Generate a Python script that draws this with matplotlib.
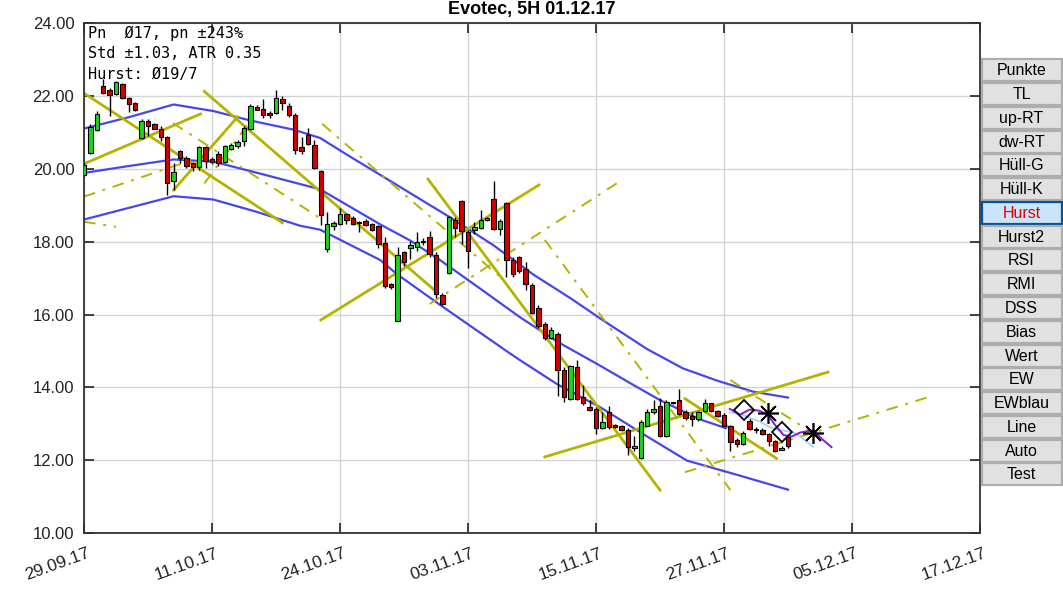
import matplotlib
matplotlib.use("Agg")
import matplotlib.pyplot as plt
import matplotlib.transforms as mtrans
from matplotlib.patches import Rectangle
import numpy as np

W, H = 1063, 591

# --- Kerzen (5H-Bars) ---
opens = [19.84, 20.45, 21.08, 22.29, 22.18, 22.06, 22.32, 21.95, 21.80, 20.85,
         21.33, 21.24, 21.11, 20.88, 19.66, 20.49, 20.30, 20.15, 20.05, 20.61,
         20.27, 20.41, 20.20, 20.55, 20.62, 20.76, 21.10, 21.71, 21.65, 21.54,
         21.54, 21.91, 21.74, 21.47, 20.59, 20.94, 20.66, 19.94, 17.80, 18.44,
         18.48, 18.75, 18.64, 18.54, 18.56, 18.48, 18.44, 17.96, 16.83, 15.83,
         17.71, 17.83, 17.86, 17.98, 18.14, 17.64, 16.54, 17.13, 18.60, 19.13,
         18.28, 18.32, 18.38, 18.60, 19.17, 18.35, 19.06, 17.50, 17.57, 17.25,
         16.82, 16.18, 15.74, 15.36, 15.47, 14.47, 13.67, 14.55, 13.73, 13.47,
         13.40, 12.88, 13.31, 12.97, 12.93, 12.82, 12.34, 12.06, 12.95, 13.31,
         13.49, 12.67, 13.59, 13.64, 13.31, 13.20, 13.13, 13.36, 13.56, 13.34,
         13.25, 12.95, 12.55, 12.45, 13.09, 12.85, 12.82, 12.73, 12.52, 12.29,
         12.65]
highs = [20.15, 21.24, 21.59, 22.46, 22.23, 22.41, 22.37, 21.98, 21.83, 21.36,
         21.38, 21.25, 21.17, 20.90, 20.17, 20.53, 20.35, 20.18, 20.64, 20.64,
         20.34, 20.48, 20.66, 20.70, 20.80, 21.17, 21.77, 21.75, 21.91, 21.58,
         22.17, 22.00, 21.82, 21.54, 20.89, 21.12, 20.80, 19.96, 18.83, 18.58,
         18.92, 18.80, 18.72, 18.58, 18.62, 18.52, 18.47, 18.14, 16.88, 17.86,
         17.75, 18.03, 18.26, 18.10, 18.30, 17.71, 16.58, 18.72, 18.67, 19.15,
         18.32, 18.55, 18.87, 18.67, 19.68, 18.62, 19.08, 17.57, 17.62, 17.43,
         16.88, 16.25, 15.80, 15.65, 15.52, 14.56, 14.61, 14.75, 14.06, 13.65,
         13.45, 13.33, 13.49, 13.00, 12.97, 12.88, 12.67, 13.11, 13.40, 13.65,
         13.70, 13.64, 13.61, 13.95, 13.38, 13.33, 13.34, 13.67, 13.58, 13.38,
         13.29, 12.97, 12.62, 12.79, 13.15, 12.92, 12.88, 12.76, 12.56, 12.38,
         12.69]
lows = [19.80, 20.42, 21.04, 22.05, 21.45, 22.03, 21.93, 21.56, 21.59, 20.83,
        20.90, 21.10, 20.76, 19.29, 19.43, 20.17, 20.03, 19.95, 19.98, 20.03,
        20.14, 20.09, 20.16, 20.52, 20.58, 20.62, 21.08, 21.61, 21.40, 21.40,
        21.52, 21.63, 21.43, 20.41, 20.41, 20.66, 20.00, 18.45, 17.72, 18.31,
        18.46, 18.50, 18.47, 18.27, 18.43, 18.30, 17.83, 16.74, 16.70, 15.81,
        17.34, 17.52, 17.75, 17.90, 17.57, 16.45, 16.26, 17.11, 18.14, 17.95,
        17.28, 18.21, 18.35, 18.58, 18.32, 18.19, 17.02, 17.02, 17.15, 16.67,
        16.01, 15.64, 15.30, 15.33, 13.76, 13.61, 13.64, 13.64, 13.52, 13.34,
        12.73, 12.85, 12.85, 12.88, 12.80, 12.15, 12.25, 12.04, 12.93, 13.27,
        12.64, 12.65, 13.55, 13.25, 13.11, 12.94, 13.09, 13.33, 13.31, 13.18,
        12.93, 12.25, 12.37, 12.42, 12.83, 12.75, 12.69, 12.40, 12.22, 12.27,
        12.33]
closes = [20.10, 21.15, 21.50, 22.09, 22.03, 22.39, 21.95, 21.77, 21.61, 21.33,
          21.17, 21.11, 20.88, 19.61, 19.92, 20.30, 20.09, 20.05, 20.61, 20.22,
          20.18, 20.16, 20.62, 20.66, 20.73, 21.12, 21.72, 21.63, 21.47, 21.47,
          21.94, 21.82, 21.47, 20.53, 20.48, 20.69, 20.02, 18.74, 18.48, 18.52,
          18.75, 18.61, 18.50, 18.51, 18.47, 18.31, 17.95, 16.79, 16.76, 17.64,
          17.43, 17.92, 17.98, 18.03, 17.66, 16.56, 16.30, 18.67, 18.38, 18.30,
          17.75, 18.41, 18.61, 18.65, 18.35, 18.58, 17.50, 17.11, 17.20, 16.83,
          16.04, 15.68, 15.36, 15.57, 14.47, 13.73, 14.58, 13.67, 13.56, 13.38,
          12.88, 13.06, 12.91, 12.91, 12.82, 12.36, 12.40, 13.06, 13.31, 13.40,
          12.67, 13.61, 13.57, 13.27, 13.15, 13.13, 13.31, 13.56, 13.34, 13.20,
          12.95, 12.49, 12.45, 12.76, 12.85, 12.82, 12.73, 12.52, 12.25, 12.34,
          12.40]

x_labels = ["29.09.17", "11.10.17", "24.10.17", "03.11.17",
            "15.11.17", "27.11.17", "05.12.17", "17.12.17"]
y_ticks = [10, 12, 14, 16, 18, 20, 22, 24]

# --- Kanal (blau) ---
upper_x = [0, 7, 14, 20.2, 26, 32.7, 36.9, 41, 46.25, 57.2, 64, 70.2, 76, 81.1, 88, 93.6, 99, 104.6, 110]
upper_y = [21.11, 21.42, 21.77, 21.59, 21.33, 21.08, 20.85, 20.40, 19.84, 18.67, 17.90, 17.1, 16.45, 15.84,
           15.05, 14.52, 14.18, 13.88, 13.72]
mid_x = [0, 7, 14, 20.2, 28, 36.9, 46.25, 51, 55.6, 62, 68.1, 74, 80.6, 86, 90, 96.25, 100.3]
mid_y = [19.89, 20.08, 20.26, 20.20, 19.85, 19.44, 18.48, 18.03, 17.5, 16.70, 15.93, 15.25, 14.6, 14.05,
         13.65, 13.12, 12.88]
low_x = [0, 7, 14, 20.2, 27, 33.75, 36.9, 46.25, 48.9, 55.6, 66, 68.1, 74, 80.6, 88, 94.2, 102, 110]
low_y = [18.61, 18.93, 19.25, 19.16, 18.82, 18.44, 18.33, 17.5, 17.11, 16.27, 15.0, 14.75, 14.08, 13.46,
         12.65, 11.99, 11.60, 11.19]

# --- Trendlinien (x0, y0, x1, y1) ---
tl_solid = [(0, 22.08, 31.0, 18.52), (0, 20.14, 18.2, 21.51), (18.8, 22.13, 55.1, 16.62),
            (14.0, 19.42, 24.0, 21.43), (37.0, 15.85, 71.1, 19.56), (53.75, 19.72, 90.0, 11.18),
            (72.0, 12.09, 116.25, 14.42), (93.9, 13.69, 108.2, 12.05)]
tl_dash = [(0, 19.24, 17.0, 20.25), (18.8, 19.6, 25.5, 21.2), (0, 18.55, 5.0, 18.41),
           (13.9, 21.26, 36.6, 18.68), (37.2, 21.24, 65.8, 16.92), (54.0, 16.29, 84.0, 19.69),
           (72.0, 18.05, 101.0, 11.18), (93.9, 11.67, 131.9, 13.73), (101.0, 14.2, 113.9, 12.74)]

# --- Hurst-Projektion ---
hurst_x = [100.9, 102.5, 104.0, 105.5, 106.9, 108.0, 109.3, 110.6, 111.9, 113.9, 115.5, 116.8]
hurst_y = [13.41, 13.25, 13.39, 13.36, 13.24, 12.96, 12.69, 12.65, 12.76, 12.82, 12.55, 12.36]
hurst2_x = [100.9, 102.5, 104.2, 105.6, 107.0, 108.3, 109.7, 111.1, 112.4, 113.9]
hurst2_y = [13.31, 13.27, 13.15, 13.06, 12.92, 12.84, 12.80, 12.74, 12.58, 12.37]
diam_x = [103.1, 109.1]
diam_y = [13.38, 12.77]
star_x = [106.8, 113.9]
star_y = [13.29, 12.74]

buttons = ["Punkte", "TL", "up-RT", "dw-RT", "Hüll-G", "Hüll-K", "Hurst", "Hurst2", "RSI",
           "RMI", "DSS", "Bias", "Wert", "EW", "EWblau", "Line", "Auto", "Test"]
active = "Hurst"

olive = "#b4b400"
blue = "#4646ee"

fig = plt.figure(figsize=(W / 100, H / 100), dpi=100)
ax = fig.add_axes([84 / W, 1 - 533 / H, (980 - 84) / W, (533 - 23.3) / H])

for xs, ys in [(upper_x, upper_y), (mid_x, mid_y), (low_x, low_y)]:
    ax.plot(xs, ys, color=blue, lw=1.6, zorder=2)

for x0, y0, x1, y1 in tl_solid:
    ax.plot([x0, x1], [y0, y1], color=olive, lw=2.0, zorder=2.5)
for x0, y0, x1, y1 in tl_dash:
    ax.plot([x0, x1], [y0, y1], color=olive, lw=1.4, ls=(0, (6, 4, 1.5, 4)), zorder=2.5)

# Kerzen
o = np.array(opens); c = np.array(closes)
idx = np.arange(len(o))
cols = np.where(c >= o, "#1ed21e", "#d40000")
ax.vlines(idx, lows, highs, color="black", lw=1.0, zorder=3)
ax.bar(idx, np.maximum(np.abs(c - o), 0.04), bottom=np.minimum(o, c), width=0.7,
       color=cols, edgecolor="black", linewidth=0.8, zorder=3.5)

ax.plot(hurst2_x, hurst2_y, color="#a8d4ff", lw=1.4, zorder=4)
ax.plot(hurst_x, hurst_y, color="#8a1ad0", lw=1.4, zorder=4)
ax.plot(diam_x, diam_y, ls="none", marker="D", ms=10, mfc="none", mec="black", mew=1.3, zorder=5)
ax.plot(star_x, star_y, ls="none", marker=(8, 2, 0), ms=15, mec="black", mew=1.2, zorder=5)

ax.set_xlim(0, 140)
ax.set_ylim(10, 24)
ax.set_xticks(range(0, 141, 20))
ax.set_xticklabels(x_labels, rotation=20, ha="right", fontsize=12.5, family="Liberation Sans", color="#222222")
ax.set_yticks(y_ticks)
ax.set_yticklabels([f"{v:.2f}" for v in y_ticks], fontsize=12, family="Liberation Sans", color="#222222")
ax.tick_params(direction="in", length=7, width=1.2, top=True, right=True, color="#222222")
ax.tick_params(axis="x", pad=9)
ax.tick_params(axis="y", pad=7)
for lbl in ax.get_xticklabels():
    lbl.set_transform(lbl.get_transform() + mtrans.ScaledTranslation(0.08, 0, fig.dpi_scale_trans))
ax.grid(True, color="#d4d4d4", lw=1.0)
ax.set_axisbelow(True)
for sp in ax.spines.values():
    sp.set_color("#333333")
    sp.set_linewidth(1.3)

ax.set_title("Evotec, 5H 01.12.17", fontsize=13, fontweight="bold", family="Liberation Sans", pad=7)

info = ["Pn  Ø17, pn ±243%", "Std ±1.03, ATR 0.35", "Hurst: Ø19/7"]
for k, line in enumerate(info):
    fig.text(88 / W, 1 - (26 + 20.5 * k) / H, line, family="DejaVu Sans Mono", fontsize=11,
             va="top", ha="left", color="black")

# Buttons rechts
for k, name in enumerate(buttons):
    top = 59.3 + 23.77 * k
    on = name == active
    fig.add_artist(Rectangle((981.5 / W, 1 - (top + 22) / H), 80 / W, 22 / H,
                             transform=fig.transFigure,
                             facecolor="#cce4f7" if on else "#e1e1e1",
                             edgecolor="#0055a0" if on else "#adadad",
                             lw=1.6))
    fig.text(1021.5 / W, 1 - (top + 11.5) / H, name, ha="center", va="center",
             fontsize=11.5, family="Liberation Sans", color="#e00000" if on else "black")

fig.savefig("out.png", dpi=100)
